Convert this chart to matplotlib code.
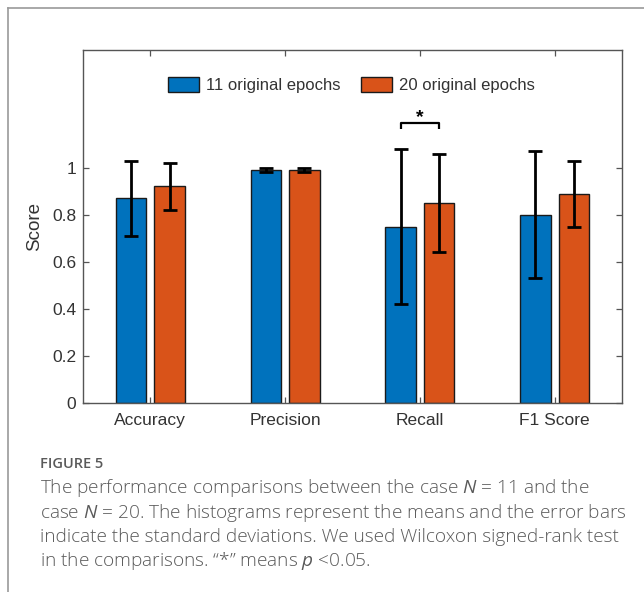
import matplotlib
matplotlib.use("Agg")
import matplotlib.pyplot as plt
import numpy as np
from matplotlib.lines import Line2D

categories = ["Accuracy", "Precision", "Recall", "F1 Score"]
series_names = ["11 original epochs", "20 original epochs"]
means_11 = [0.87, 0.99, 0.75, 0.80]
std_11 = [0.16, 0.01, 0.33, 0.27]
means_20 = [0.92, 0.99, 0.85, 0.89]
std_20 = [0.10, 0.01, 0.21, 0.14]
yticks = [0, 0.2, 0.4, 0.6, 0.8, 1.0]
ytick_labels = ["0", "0.2", "0.4", "0.6", "0.8", "1"]
sig_category = "Recall"

plt.rcParams["font.family"] = ["Liberation Sans", "DejaVu Sans"]
plt.rcParams["mathtext.fontset"] = "custom"
plt.rcParams["mathtext.rm"] = "Open Sans"
plt.rcParams["mathtext.it"] = "Open Sans:italic"

W, H = 644, 592
fig = plt.figure(figsize=(W / 100, H / 100), dpi=100)

ax = fig.add_axes([83 / W, 1 - 403 / H, 539 / W, 353 / H])

x = np.arange(1, len(categories) + 1)
off = 0.143
bw = 0.226
blue = "#0072BD"
orange = "#D95319"
spine_c = "#555555"
text_c = "#333333"

ax.bar(x - off, means_11, bw, color=blue, edgecolor="#1a1a1a", linewidth=1.0,
       label=series_names[0], zorder=2)
ax.bar(x + off, means_20, bw, color=orange, edgecolor="#1a1a1a", linewidth=1.0,
       label=series_names[1], zorder=2)
ax.errorbar(x - off, means_11, yerr=std_11, fmt="none", ecolor="black",
            elinewidth=2.0, capsize=5.2, capthick=2.0, zorder=3)
ax.errorbar(x + off, means_20, yerr=std_20, fmt="none", ecolor="black",
            elinewidth=2.0, capsize=5.2, capthick=2.0, zorder=3)

# significance bracket
ci = categories.index(sig_category)
xc = x[ci]
ax.plot([xc - off, xc - off, xc + off, xc + off], [1.165, 1.19, 1.19, 1.165],
        color="black", lw=1.6, solid_capstyle="butt", zorder=3)
ax.text(xc, 1.212, "*", ha="center", va="center", fontsize=14, color="black",
        fontweight="bold")

ax.set_xlim(0.5, 4.5)
ax.set_ylim(0, 1.5)
ax.set_xticks(x)
ax.set_xticklabels(categories)
ax.set_yticks(yticks)
ax.set_yticklabels(ytick_labels)
ax.tick_params(direction="in", length=4, width=0.9, color=spine_c,
               labelcolor=text_c, labelsize=12.5, top=True, right=True,
               labeltop=False, labelright=False)
ax.tick_params(axis="x", pad=7)
ax.tick_params(axis="y", pad=5)
for s in ax.spines.values():
    s.set_color(spine_c)
    s.set_linewidth(1.0)
ax.set_ylabel("Score", fontsize=13.5, color=text_c, labelpad=6)

ax.legend(loc="center", bbox_to_anchor=(0.498, 0.9), ncol=2, frameon=False,
          fontsize=12, handlelength=1.85, handleheight=1.0, handletextpad=0.45,
          columnspacing=1.2, labelcolor=text_c)

# outer frame
fig.add_artist(Line2D([7.5 / W, 7.5 / W], [0, 1 - 8 / H], transform=fig.transFigure,
                      color="#9a9a9a", lw=1.2))
fig.add_artist(Line2D([7.5 / W, 1], [1 - 8 / H, 1 - 8 / H], transform=fig.transFigure,
                      color="#9a9a9a", lw=1.2))

cap_c = "#5a5a5a"
fig.text(40 / W, 1 - 464 / H, "FIGURE 5", fontsize=10.5, color=cap_c,
         family="Open Sans", fontweight="semibold", va="center", ha="left")
lines = [
    r"The performance comparisons between the case $\mathit{N}$ = 11 and the",
    r"case $\mathit{N}$ = 20. The histograms represent the means and the error bars",
    r"indicate the standard deviations. We used Wilcoxon signed-rank test",
    r"in the comparisons. “*” means $\mathit{p}$ <0.05.",
]
ys = [488, 512.5, 537, 561.5]
for t, yy in zip(lines, ys):
    fig.text(40 / W, 1 - yy / H, t, fontsize=13.65, color=cap_c, family="Open Sans",
             fontweight="light", va="center", ha="left")

fig.savefig("out.png", dpi=100)
